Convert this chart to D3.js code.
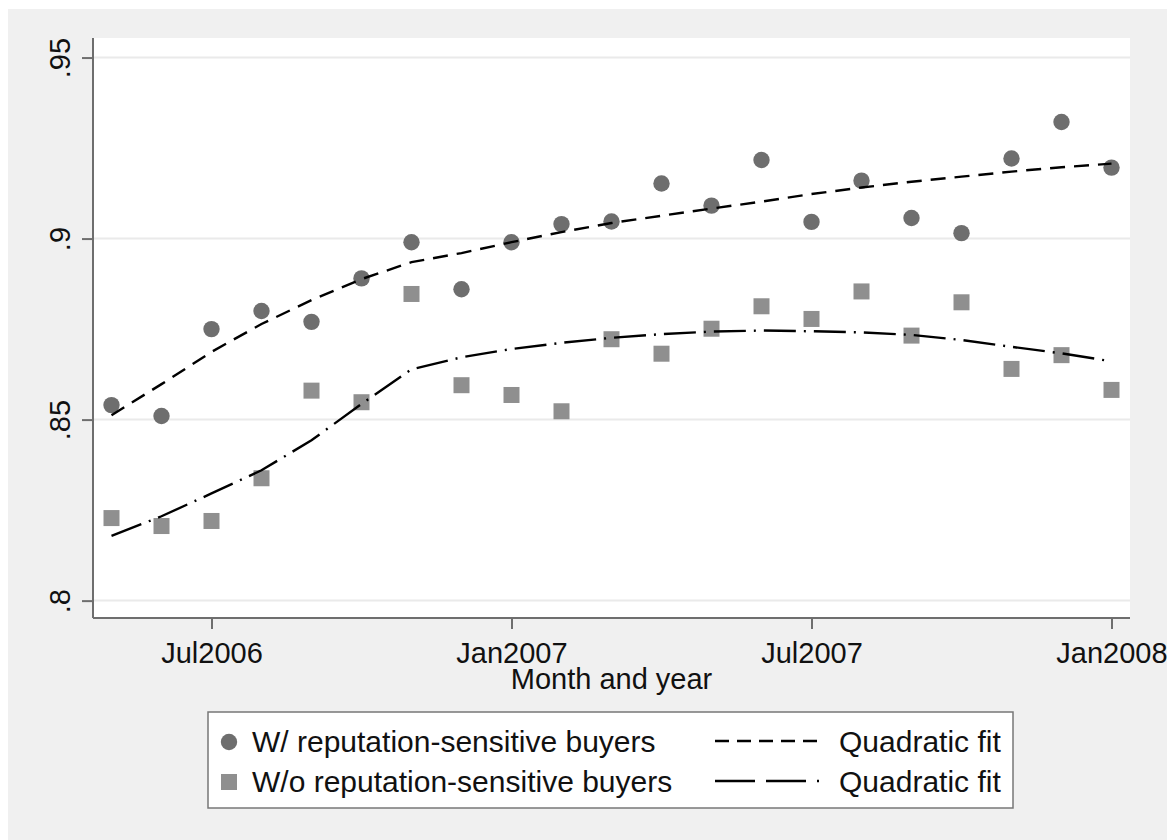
<!DOCTYPE html>
<html>
<head>
<meta charset="utf-8">
<script src="https://cdn.jsdelivr.net/npm/d3@7"></script>
<style>
  html, body { margin: 0; padding: 0; background: #ffffff; }
  svg { display: block; }
  text { font-family: "Liberation Sans", Arial, Helvetica, sans-serif; fill: #111; }
</style>
</head>
<body>
<svg id="chart" width="1167" height="840"></svg>
<script>
// Monthly share of transactions, May 2006 – Jan 2008 (month index 0 = May2006)
const months = d3.range(0, 21);

// W/ reputation-sensitive buyers: observed monthly means
const withBuyers = [0.854, 0.851, 0.875, 0.880, 0.877, 0.889, 0.899, 0.886, 0.899, 0.904, 0.9047,
                    0.9152, 0.9091, 0.9217, 0.9046, 0.9160, 0.9057, 0.9015, 0.9221, 0.9322, 0.9196];
// W/ reputation-sensitive buyers: quadratic fit
const withFit = [0.8512, 0.8598, 0.8687, 0.8764, 0.8830, 0.8888, 0.8935, 0.8960, 0.8990, 0.9018, 0.9043,
                 0.9063, 0.9083, 0.9102, 0.9123, 0.9141, 0.9157, 0.9171, 0.9185, 0.9197, 0.9207];

// W/o reputation-sensitive buyers: observed monthly means
const withoutBuyers = [0.8228, 0.8206, 0.8220, 0.8338, 0.8580, 0.8548, 0.8847, 0.8595, 0.8568, 0.8523, 0.8722,
                       0.8682, 0.8751, 0.8813, 0.8778, 0.8854, 0.8732, 0.8824, 0.8640, 0.8678, 0.8582];
// W/o reputation-sensitive buyers: quadratic fit
const withoutFit = [0.8179, 0.8233, 0.8296, 0.8360, 0.8443, 0.8543, 0.8639, 0.8672, 0.8695, 0.8712, 0.8726,
                    0.8736, 0.8743, 0.8746, 0.8744, 0.8741, 0.8734, 0.8720, 0.8701, 0.8683, 0.8661];

// Axis ticks
const xTickMonths = [2, 8, 14, 20];
const xTickLabels = ["Jul2006", "Jan2007", "Jul2007", "Jan2008"];
const yTickValues = [0.8, 0.85, 0.9, 0.95];
const yTickLabels = [".8", ".85", ".9", ".95"];

const legendLabels = ["W/ reputation-sensitive buyers", "W/o reputation-sensitive buyers"];
const fitLabel = "Quadratic fit";
const xTitle = "Month and year";

const svg = d3.select("#chart");

const plot = { left: 93, right: 1130, top: 38, bottom: 618 };

const x = d3.scaleLinear().domain([-0.37, 20.37]).range([plot.left, plot.right]);
const y = d3.scaleLinear().domain([0.7952, 0.9554]).range([plot.bottom, plot.top]);

// Outer graph region
svg.append("rect").attr("x", 8).attr("y", 9).attr("width", 1159).attr("height", 831).attr("fill", "#f0f0f0");
// Plot region
svg.append("rect").attr("x", plot.left).attr("y", plot.top)
  .attr("width", plot.right - plot.left).attr("height", plot.bottom - plot.top).attr("fill", "#ffffff");

// Horizontal grid lines
svg.append("g").selectAll("line").data(yTickValues).join("line")
  .attr("x1", plot.left).attr("x2", plot.right)
  .attr("y1", d => y(d)).attr("y2", d => y(d))
  .attr("stroke", "#eaeaea").attr("stroke-width", 2);

// Y axis
const yAxis = svg.append("g").attr("transform", `translate(${plot.left},0)`)
  .call(d3.axisLeft(y).tickValues(yTickValues).tickSize(11)
        .tickFormat((d, i) => yTickLabels[i]));
yAxis.select(".domain").attr("stroke", "#6e6e6e").attr("stroke-width", 2)
  .attr("d", `M0,${plot.top}V${plot.bottom}`);
yAxis.selectAll(".tick line").attr("stroke", "#6e6e6e").attr("stroke-width", 2);
yAxis.selectAll(".tick text")
  .attr("x", null).attr("dy", null)
  .attr("transform", "translate(-23,0) rotate(-90)")
  .attr("text-anchor", "middle")
  .style("font-size", "29px").style("font-family", "Liberation Sans, Arial, sans-serif")
  .attr("fill", "#111");

// X axis
const xAxis = svg.append("g").attr("transform", `translate(0,${plot.bottom})`)
  .call(d3.axisBottom(x).tickValues(xTickMonths).tickSize(11)
        .tickFormat((d, i) => xTickLabels[i]));
xAxis.select(".domain").attr("stroke", "#6e6e6e").attr("stroke-width", 2)
  .attr("d", `M${plot.left},0H${plot.right}`);
xAxis.selectAll(".tick line").attr("stroke", "#6e6e6e").attr("stroke-width", 2);
xAxis.selectAll(".tick text")
  .attr("y", 45).attr("dy", null)
  .style("font-size", "29px").style("font-family", "Liberation Sans, Arial, sans-serif")
  .attr("fill", "#111");

svg.append("text").attr("x", (plot.left + plot.right) / 2).attr("y", 689)
  .attr("text-anchor", "middle").style("font-size", "29px").text(xTitle);

const circleColor = "#6e6e6e";
const squareColor = "#8f8f8f";
const sq = 16;

const line = d3.line().x((d, i) => x(months[i])).y(d => y(d));

// W/ buyers markers
svg.append("g").selectAll("circle").data(withBuyers).join("circle")
  .attr("cx", (d, i) => x(months[i])).attr("cy", d => y(d)).attr("r", 8.2)
  .attr("fill", circleColor);

// W/o buyers markers
svg.append("g").selectAll("rect").data(withoutBuyers).join("rect")
  .attr("x", (d, i) => x(months[i]) - sq / 2).attr("y", d => y(d) - sq / 2)
  .attr("width", sq).attr("height", sq).attr("fill", squareColor);

// Fit lines
svg.append("path").datum(withFit).attr("d", line)
  .attr("fill", "none").attr("stroke", "#000").attr("stroke-width", 2.4)
  .attr("stroke-dasharray", "15,9");
svg.append("path").datum(withoutFit).attr("d", line)
  .attr("fill", "none").attr("stroke", "#000").attr("stroke-width", 2.4)
  .attr("stroke-dasharray", "32,8,2,8");

// Legend
const lg = svg.append("g");
lg.append("rect").attr("x", 208).attr("y", 712).attr("width", 805).attr("height", 96)
  .attr("fill", "#ffffff").attr("stroke", "#777").attr("stroke-width", 1.5);

const rowY = [742, 782];
lg.append("circle").attr("cx", 229).attr("cy", rowY[0]).attr("r", 8.2).attr("fill", circleColor);
lg.append("rect").attr("x", 229 - sq / 2).attr("y", rowY[1] - sq / 2).attr("width", sq).attr("height", sq)
  .attr("fill", squareColor);

lg.selectAll("text.series").data(legendLabels).join("text").attr("class", "series")
  .attr("x", 252).attr("y", (d, i) => rowY[i] + 10)
  .style("font-size", "30px").text(d => d);

lg.append("line").attr("x1", 715).attr("x2", 820).attr("y1", rowY[0] - 1).attr("y2", rowY[0] - 1)
  .attr("stroke", "#000").attr("stroke-width", 2.4).attr("stroke-dasharray", "14,8");
lg.append("line").attr("x1", 715).attr("x2", 820).attr("y1", rowY[1] - 1).attr("y2", rowY[1] - 1)
  .attr("stroke", "#000").attr("stroke-width", 2.4).attr("stroke-dasharray", "40,11,40,11,2,40");

lg.selectAll("text.fit").data(rowY).join("text").attr("class", "fit")
  .attr("x", 839).attr("y", d => d + 10)
  .style("font-size", "30px").text(fitLabel);
</script>
</body>
</html>
